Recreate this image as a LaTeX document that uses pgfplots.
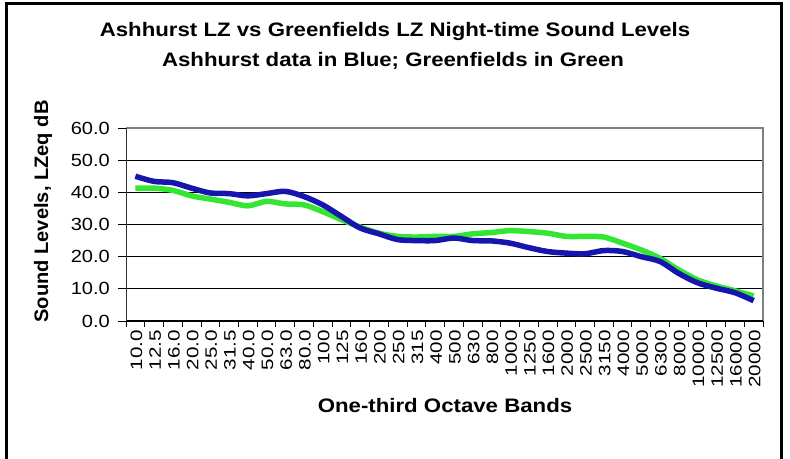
\documentclass[border=0pt]{standalone}
\usepackage{pgfplots}
\pgfplotsset{compat=1.18}
\usepackage{pgfplotstable}
\usepackage{fontspec}
\setmainfont{Liberation Sans}
\newfontfamily\titlefont{Liberation Sans}[FakeStretch=1.14]
\newfontfamily\ylabfont{Liberation Sans}[FakeStretch=1.03]
\newfontfamily\yticfont{Liberation Sans}[FakeStretch=1.14]
\newfontfamily\xticfont{Liberation Sans}[FakeStretch=1.25]
\definecolor{ashblue}{RGB}{22,22,175}
\definecolor{greengreen}{RGB}{50,230,50}

\pgfplotstableread{
i ash green
0 45.0 41.3
1 43.4 41.3
2 43.0 40.6
3 41.3 38.9
4 39.8 37.9
5 39.6 36.9
6 38.9 35.8
7 39.6 37.2
8 40.3 36.4
9 38.7 36.1
10 36.1 34.0
11 32.5 31.5
12 28.9 29.2
13 27.1 27.3
14 25.3 26.3
15 25.0 26.1
16 25.0 26.3
17 25.8 26.3
18 25.0 27.1
19 24.9 27.5
20 24.2 28.1
21 22.8 27.8
22 21.6 27.3
23 21.1 26.3
24 20.9 26.3
25 21.9 26.1
26 21.6 24.2
27 20.0 22.1
28 18.5 19.5
29 14.8 15.9
30 11.9 12.8
31 10.2 10.9
32 8.8 9.4
33 6.3 7.8
}\datatable

\begin{document}
\begin{tikzpicture}[x=1bp,y=1bp]
\begin{axis}[
  at={(126bp,138bp)}, anchor=south west,
  scale only axis, width=637bp, height=193bp,
  xmin=-0.5, xmax=33.5, ymin=0, ymax=60,
  xtick={0,...,33},
  xticklabels={10.0,12.5,16.0,20.0,25.0,31.5,40.0,50.0,63.0,80.0,100,125,160,200,250,315,400,500,630,800,1000,1250,1600,2000,2500,3150,4000,5000,6300,8000,10000,12500,16000,20000},
  minor xtick={-0.5,0.5,...,33.5},
  ytick={0,10,...,60},
  yticklabels={0.0,10.0,20.0,30.0,40.0,50.0,60.0},
  tick align=outside,
  xtick pos=bottom, ytick pos=left,
  major tick length=8bp, minor tick length=6bp,
  major x tick style={draw=none},
  minor x tick style={black, line width=0.8bp},
  major y tick style={black, line width=0.8bp},
  ymajorgrids,
  major grid style={black, line width=0.8bp},
  axis line style={draw=gray, line width=1bp},
  xticklabel style={rotate=90, anchor=east, inner sep=1bp, yshift=-1bp, font=\xticfont\fontsize{16.5bp}{18bp}\selectfont},
  yticklabel style={inner sep=1bp, xshift=-7bp, font=\yticfont\fontsize{17.6bp}{20bp}\selectfont},
  clip=false,
]
\addplot[greengreen, line width=5.5bp, smooth, tension=0.5] table[x=i, y=green] {\datatable};
\addplot[ashblue, line width=5.5bp, smooth, tension=0.5] table[x=i, y=ash] {\datatable};
\draw[gray, line width=1.2bp] (rel axis cs:0,1) -- (rel axis cs:1,1) -- (rel axis cs:1,0);
\draw[black, line width=1bp] (rel axis cs:0,0) -- (rel axis cs:1,0);
\draw[black!80, line width=1bp] (rel axis cs:0,0) -- (rel axis cs:0,1);
\end{axis}
\node[anchor=base, font=\titlefont\bfseries\fontsize{19.5bp}{23bp}\selectfont] at (395,422.3) {Ashhurst LZ vs Greenfields LZ Night-time Sound Levels};
\node[anchor=base, font=\titlefont\bfseries\fontsize{19.5bp}{23bp}\selectfont] at (393,392.3) {Ashhurst data in Blue; Greenfields in Green};
\node[rotate=90, font=\ylabfont\bfseries\fontsize{19.5bp}{23bp}\selectfont] at (43,247.5) {Sound Levels, LZeq dB};
\node[anchor=base, font=\titlefont\bfseries\fontsize{19.5bp}{23bp}\selectfont] at (445,46) {One-third Octave Bands};
\draw[black, line width=3bp] (6,0) -- (6,455) -- (781,455) -- (781,0);
\pgfresetboundingbox
\path[use as bounding box] (0,0) rectangle (790,459);
\end{tikzpicture}
\end{document}
